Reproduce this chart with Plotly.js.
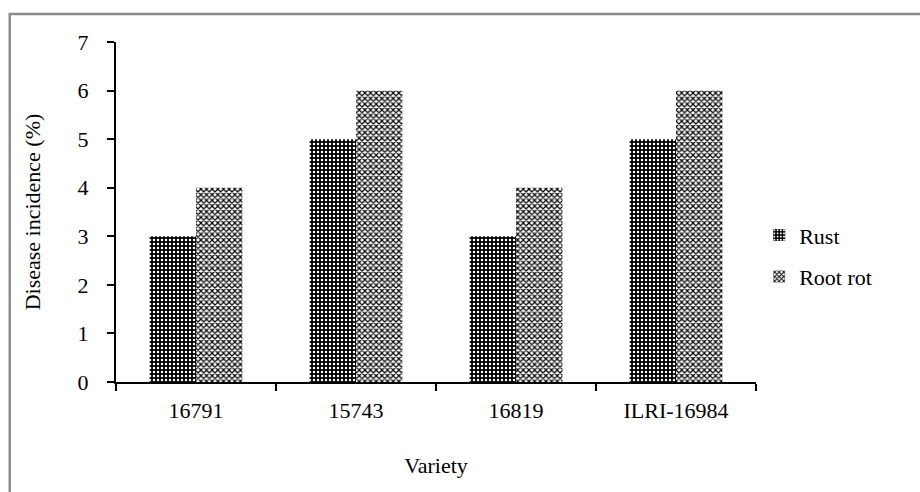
<!DOCTYPE html>
<html>
<head>
<meta charset="utf-8">
<script src="https://cdn.plot.ly/plotly-3.0.1.min.js"></script>
<style>html,body{margin:0;padding:0;background:#fff;}#chart{width:920px;height:492px;}</style>
</head>
<body>
<div id="chart"></div>
<script>
const varieties = ["16791", "15743", "16819", "ILRI-16984"];
const rust = [3, 5, 3, 5];
const rootRot = [4, 6, 4, 6];
const seriesNames = ["Rust", "Root rot"];
const yTicks = [0, 1, 2, 3, 4, 5, 6, 7];

const FONT = "Liberation Serif";
const FS = 22;

const traces = [
  {
    type: "bar", name: seriesNames[0], x: varieties, y: rust, legendgroup: "a",
    marker: {
      color: "#000",
      line: {width: 0},
      pattern: {shape: ".", bgcolor: "#000", fgcolor: "#fff",
                size: 4, solidity: 0.3, fillmode: "replace"}
    }
  },
  {
    type: "bar", name: seriesNames[1], x: varieties, y: rootRot, legendgroup: "b",
    marker: {
      color: "#fff",
      line: {width: 0},
      pattern: {shape: "x", bgcolor: "#fff", fgcolor: "#000", size: 4, solidity: 0.5, fillmode: "replace"}
    }
  }
];

const layout = {
  width: 920, height: 492,
  margin: {l: 116, r: 164, t: 42, b: 110},
  paper_bgcolor: "#fff", plot_bgcolor: "#fff",
  font: {family: FONT, size: FS, color: "#000"},
  barmode: "group",
  bargap: 0.42, bargroupgap: 0,
  showlegend: true,
  legend: {x: 1.005, y: 0.37, xanchor: "left", yanchor: "middle",
           bgcolor: "rgba(0,0,0,0)",
           font: {family: FONT, size: FS, color: "#000"}, tracegroupgap: 10, itemwidth: 30},
  xaxis: {
    type: "category",
    showline: true, linecolor: "#000", linewidth: 2,
    ticks: "outside", tickson: "boundaries", ticklen: 7, tickwidth: 2, tickcolor: "#000",
    ticklabelstandoff: 8,
    showgrid: false, zeroline: false,
    tickfont: {family: FONT, size: FS},
    title: {text: "Variety", font: {family: FONT, size: FS}, standoff: 35}
  },
  yaxis: {
    range: [0, 7], tickvals: yTicks, ticktext: yTicks.map(String),
    showline: true, linecolor: "#000", linewidth: 2,
    ticks: "outside", ticklen: 7, tickwidth: 2, tickcolor: "#000",
    ticklabelstandoff: 14,
    showgrid: false, zeroline: false,
    tickfont: {family: FONT, size: FS},
    title: {text: "Disease incidence (%)", font: {family: FONT, size: FS}, standoff: 31}
  },
  shapes: [{
    type: "rect", xref: "paper", yref: "paper",
    x0: -0.166, x1: 1.6, y0: -0.6, y1: 1.082,
    line: {color: "#8c8c8c", width: 2.5}, fillcolor: "rgba(0,0,0,0)", layer: "below"
  }]
};

Plotly.newPlot("chart", traces, layout, {displayModeBar: false, staticPlot: true});
</script>
</body>
</html>
